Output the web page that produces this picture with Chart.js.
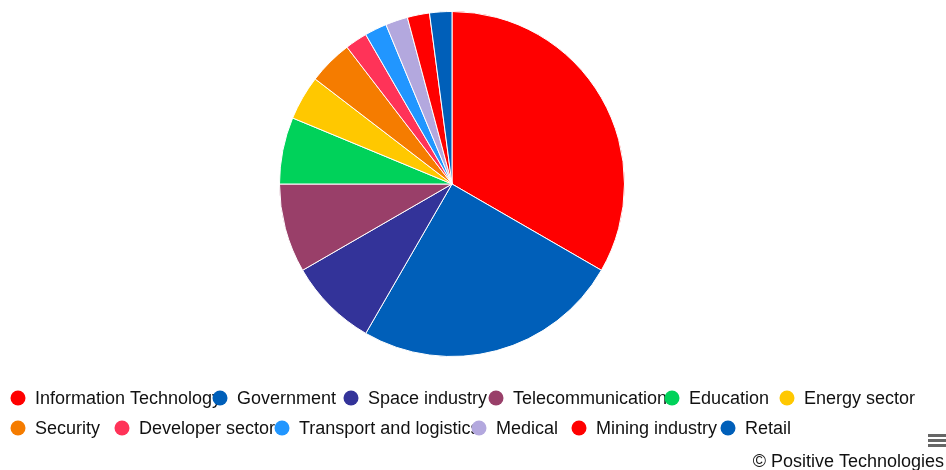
<!DOCTYPE html>
<html>
<head>
<meta charset="utf-8">
<script src="https://cdn.jsdelivr.net/npm/chart.js@4.4.1/dist/chart.umd.min.js"></script>
<style>
  html, body { margin: 0; padding: 0; background: #fff; }
  #wrap { width: 946px; height: 470px; position: relative; }
</style>
</head>
<body>
<div id="wrap"><canvas id="chart" width="946" height="470"></canvas></div>
<script>
// Industries (counts)
const categories = [
  'Information Technology', 'Government', 'Space industry', 'Telecommunications',
  'Education', 'Energy sector', 'Security', 'Developer sector',
  'Transport and logistics', 'Medical', 'Mining industry', 'Retail'
];
const values = [16, 12, 4, 4, 3, 2, 2, 1, 1, 1, 1, 1];
const colors = [
  '#ff0000', '#005fb9', '#333399', '#993f69', '#00d25a', '#ffc800',
  '#f57c00', '#ff3358', '#2196ff', '#b3a8de', '#ff0000', '#005fb9'
];

// legend layout (Highcharts-like, items overlapping as in the original)
const legendRowY = [398, 428];
const legendRows = [0, 0, 0, 0, 0, 0, 1, 1, 1, 1, 1, 1];
const legendX = [18, 220, 351, 496, 672, 787, 18, 122, 282, 479, 579, 728];

const FONT = '"Liberation Sans", Arial, sans-serif';

const overlay = {
  id: 'overlay',
  afterDraw(chart) {
    const ctx = chart.ctx;
    ctx.save();
    ctx.font = '18px ' + FONT;
    ctx.textBaseline = 'middle';
    chart.data.labels.forEach((lab, i) => {
      const x = legendX[i], y = legendRowY[legendRows[i]];
      ctx.fillStyle = colors[i];
      ctx.beginPath();
      ctx.arc(x, y, 7.5, 0, Math.PI * 2);
      ctx.fill();
      ctx.fillStyle = '#111';
      ctx.fillText(lab, x + 17, y + 1);
    });
    // menu icon
    ctx.fillStyle = '#666';
    [435.5, 440.5, 445.5].forEach(y => ctx.fillRect(928, y - 1.5, 20, 3));
    // credits
    ctx.font = '18px ' + FONT;
    ctx.textAlign = 'right';
    ctx.fillStyle = '#111';
    ctx.fillText('\u00a9 Positive Technologies', 944, 462);
    ctx.restore();
  }
};

new Chart(document.getElementById('chart'), {
  type: 'pie',
  data: {
    labels: categories,
    datasets: [{
      data: values,
      backgroundColor: colors,
      borderColor: '#ffffff',
      borderWidth: 1
    }]
  },
  options: {
    responsive: false,
    animation: false,
    layout: { padding: { top: 11, bottom: 113, left: 0, right: 42 } },
    plugins: {
      legend: { display: false },
      tooltip: { enabled: false }
    }
  },
  plugins: [overlay]
});
</script>
</body>
</html>
